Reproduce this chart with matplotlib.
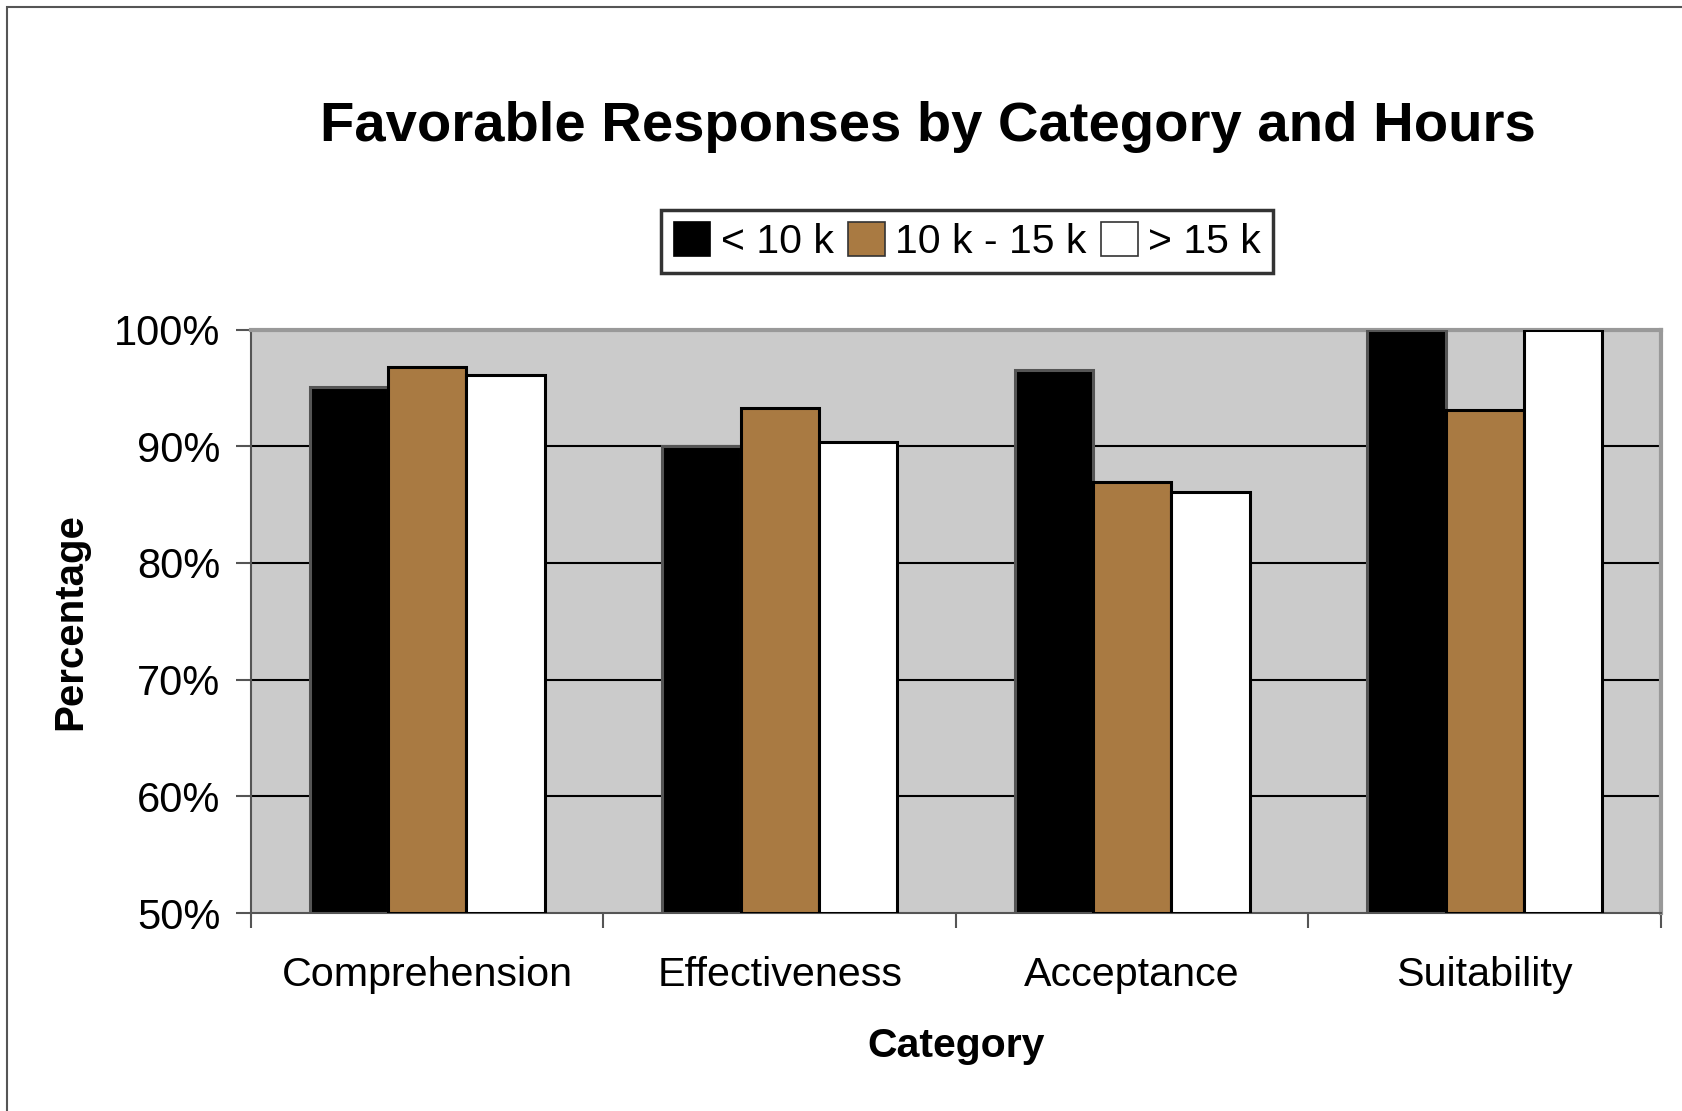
import matplotlib
matplotlib.use("Agg")
import matplotlib.pyplot as plt
import numpy as np
from matplotlib.patches import Rectangle, Patch
from matplotlib.ticker import FixedLocator, PercentFormatter

plt.rcParams['font.family'] = ['Liberation Sans', 'DejaVu Sans']

categories = ["Comprehension", "Effectiveness", "Acceptance", "Suitability"]
series_names = ["< 10 k", "10 k - 15 k", "> 15 k"]
under_10k = [95.1, 90.0, 96.5, 100.0]
from_10k_to_15k = [96.8, 93.3, 86.9, 93.1]
over_15k = [96.1, 90.4, 86.1, 100.0]
y_ticks = [50, 60, 70, 80, 90, 100]

series_values = [under_10k, from_10k_to_15k, over_15k]
face_colors = ["#000000", "#A97A42", "#FFFFFF"]
edge_colors = ["#555555", "#000000", "#000000"]

fig = plt.figure(figsize=(16.83, 11.11), dpi=100)
ax = fig.add_axes([0.1491, 0.1782, 0.9869 - 0.1491, 0.7034 - 0.1782])

# frame around the whole figure
fig.patches.append(Rectangle((7 / 1683, -0.01), 1.02, 1 - 7 / 1111 + 0.01,
                             transform=fig.transFigure, fill=False,
                             edgecolor="#555555", linewidth=1.5))

ax.set_facecolor("#CBCBCB")
x = np.arange(len(categories))
bar_w = 1 / 4.5
for i, (vals, fc, ec) in enumerate(zip(series_values, face_colors, edge_colors)):
    ax.bar(x + (i - 1) * bar_w, np.array(vals) - 50, bottom=50, width=bar_w,
           color=fc, edgecolor=ec, linewidth=2.2, zorder=3)

ax.set_xlim(-0.5, len(categories) - 0.5)
ax.set_ylim(50, 100)
ax.yaxis.set_major_locator(FixedLocator(y_ticks))
ax.yaxis.set_major_formatter(PercentFormatter(decimals=0))
for yv in y_ticks[1:-1]:
    ax.axhline(yv, color="black", linewidth=1.5, zorder=1)

ax.set_xticks(x)
ax.set_xticklabels(categories, fontsize=29.7)
ax.xaxis.set_minor_locator(FixedLocator(np.arange(-0.5, len(categories), 1)))
ax.tick_params(axis="x", which="major", length=0, pad=31)
ax.tick_params(axis="x", which="minor", length=11, width=1.5, color="#555555", direction="out")
ax.tick_params(axis="y", labelsize=30, length=11, width=1.5, color="#555555", direction="out", pad=11)

for side in ["left", "bottom"]:
    ax.spines[side].set_color("#555555")
    ax.spines[side].set_linewidth(1.5)
for side in ["top", "right"]:
    ax.spines[side].set_color("#999999")
    ax.spines[side].set_linewidth(3)

ax.set_ylabel("Percentage", fontsize=29, fontweight="bold", labelpad=18)
ax.set_xlabel("Category", fontsize=29.5, fontweight="bold", labelpad=23.5)

fig.text(0.5515, 0.8855, "Favorable Responses by Category and Hours",
         ha="center", va="center", fontsize=40.5, fontweight="bold")

handles = [Patch(facecolor=fc, edgecolor=ec, linewidth=1.2)
           for fc, ec in zip(face_colors, ["#000000", "#333333", "#333333"])]
leg = fig.legend(handles, series_names, loc="center", bbox_to_anchor=(0.5746, 0.7826),
                 ncol=3, fontsize=29.5, frameon=True, fancybox=False,
                 handlelength=0.9, handleheight=0.9, handletextpad=0.25,
                 columnspacing=0.35, borderpad=0.3, borderaxespad=0)
leg.get_frame().set_edgecolor("black")
leg.get_frame().set_linewidth(2.5)

fig.savefig("out.png", dpi=100)
